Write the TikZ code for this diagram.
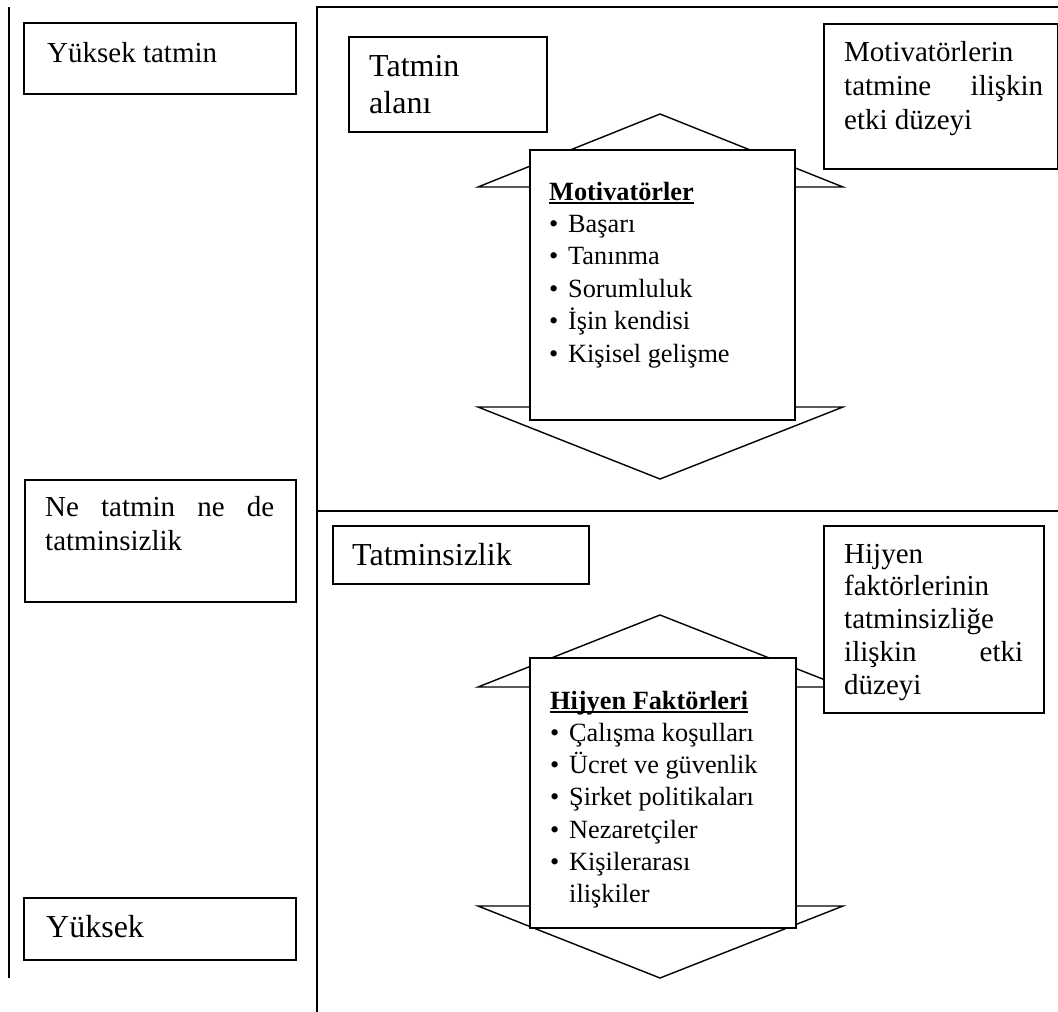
\documentclass[tikz,border=0pt]{standalone}
\usepackage{fontspec}
\setmainfont{Liberation Serif}
\newcommand\myfs[2]{\fontsize{#1}{#2}\selectfont}
\newcommand\myul[1]{\leavevmode\setbox0=\hbox{#1}\rlap{\rule[-3.5pt]{\wd0}{1.4pt}}\box0}
\newcommand\myitem[1]{\makebox[19pt][l]{•}#1}
\begin{document}
\begin{tikzpicture}[x=1pt,y=-1pt,
  frame/.style={line width=1.8pt},
  tri/.style={line width=1.4pt, line join=miter},
  box/.style={draw, line width=1.6pt, fill=white, anchor=north west, inner sep=0pt},
  txt/.style={anchor=base west, inner sep=0pt}]
\useasboundingbox (0,0) rectangle (1058,1012);

% frame lines
\coordinate (lt) at (9,7);
\coordinate (lb) at (9,978);
\coordinate (mt) at (317,7);
\coordinate (mb) at (317,1012);
\coordinate (rt) at (1058,7);
\coordinate (mm) at (317,511);
\coordinate (rm) at (1058,511);
\draw[frame] (lt) -- (lb);
\draw[frame] (mb) -- (mt) -- (rt);
\draw[frame] (mm) -- (rm);

% left column
\node[box, minimum width=272pt, minimum height=71pt] (b1) at (23,22) {};
\node[txt, font=\myfs{29}{34}] (t1) at (47,62) {Yüksek tatmin};
\node[box, minimum width=271pt, minimum height=122pt] (b2) at (24,479) {};
\node[txt, font=\myfs{29}{34}] (t2) at (45,516.5) {\parbox[t]{240pt}{\makebox[229pt][s]{Ne tatmin ne de}\\tatminsizlik}};
\node[box, minimum width=272pt, minimum height=62pt] (b3) at (23,897) {};
\node[txt, font=\myfs{32}{37}] (t3) at (46,937) {Yüksek};

% upper area
\node[box, minimum width=198pt, minimum height=95pt] (b4) at (348,36) {};
\node[txt, font=\myfs{32}{37}] (t4) at (369,76) {\parbox[t]{160pt}{Tatmin\\alanı}};
\node[box, minimum width=234pt, minimum height=145pt] (b5) at (823,23) {};
\node[txt, font=\myfs{29}{34}] (t5) at (844,61) {\parbox[t]{205pt}{Motivatörlerin\\\makebox[199pt][s]{tatmine ilişkin}\\etki düzeyi}};

% motivator arrow
\draw[tri] (478,187) -- (660,114) -- (843,187) -- cycle;
\draw[tri] (478,407) -- (843,407) -- (660,479) -- cycle;
\node[box, minimum width=265pt, minimum height=270pt] (b6) at (529,149) {};
\node[txt, font=\myfs{26.3}{32.4}] (t6) at (549,200) {\parbox[t]{240pt}{\myul{\textbf{Motivatörler}}\\
\myitem{Başarı}\\\myitem{Tanınma}\\\myitem{Sorumluluk}\\\myitem{İşin kendisi}\\\myitem{Kişisel gelişme}}};

% lower area
\node[box, minimum width=256pt, minimum height=58pt] (b7) at (332,525) {};
\node[txt, font=\myfs{32}{37}] (t7) at (352,565) {Tatminsizlik};

\draw[tri] (478,687) -- (660,615) -- (843,687) -- cycle;
\draw[tri] (478,906) -- (843,906) -- (660,978) -- cycle;
\node[box, minimum width=266pt, minimum height=270pt] (b8) at (529,657) {};
\node[txt, font=\myfs{26.3}{32.3}] (t8) at (550,709) {\parbox[t]{240pt}{\myul{\textbf{Hijyen Faktörleri}}\\
\myitem{Çalışma koşulları}\\\myitem{Ücret ve güvenlik}\\\myitem{Şirket politikaları}\\\myitem{Nezaretçiler}\\\myitem{Kişilerarası}\\\hspace*{19pt}ilişkiler}};

\node[box, minimum width=220pt, minimum height=187pt] (b9) at (823,525) {};
\node[txt, font=\myfs{29}{32.75}] (t9) at (844,563) {\parbox[t]{190pt}{Hijyen\\faktörlerinin\\tatminsizliğe\\\makebox[179pt][s]{ilişkin etki}\\düzeyi}};
\end{tikzpicture}
\end{document}
